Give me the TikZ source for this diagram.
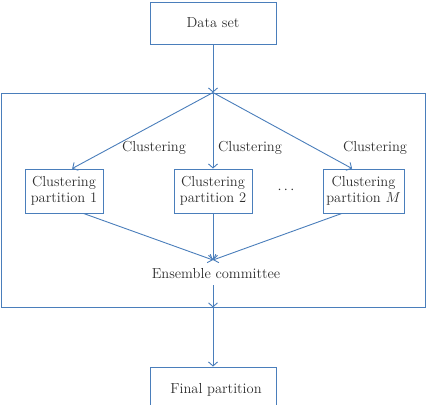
\documentclass[tikz,border=0pt]{standalone}
\usetikzlibrary{arrows.meta}
\definecolor{lineblue}{RGB}{74,126,187}
\definecolor{txt}{RGB}{45,45,45}
\begin{document}
\begin{tikzpicture}[x=1pt,y=-1pt,
  font=\fontsize{14.5}{15.5}\selectfont,
  every node/.append style={text=txt},
  box/.style={draw=lineblue,line width=0.9pt,inner sep=0pt,align=center},
  conn/.style={draw=lineblue,line width=0.9pt,-{Straight Barb[length=4pt,width=9pt]}},
  lbl/.style={inner sep=0pt}]
\useasboundingbox (0,0) rectangle (433,404);
% nodes
\node[box,minimum width=126pt,minimum height=42pt] (data) at (213,23) {Data set};
\node[box,draw=lineblue,minimum width=424pt,minimum height=214pt] (big) at (213,200) {};
\node[box,minimum width=78pt,minimum height=44pt] (p1) at (64,191) {Clustering\\partition 1};
\node[box,minimum width=78pt,minimum height=44pt] (p2) at (213,191) {Clustering\\partition 2};
\node[box,minimum width=81pt,minimum height=44pt] (pM) at (363.5,191) {Clustering\\partition $M$};
\node[lbl] (d) at (286,190) {$\cdots$};
\node[lbl] (c1) at (154,148) {Clustering};
\node[lbl] (c2) at (250,148) {Clustering};
\node[lbl] (c3) at (375,148) {Clustering};
\node[lbl] (ens) at (216,274) {Ensemble committee};
\node[box,minimum width=126pt,minimum height=46pt] (final) at (213,390) {};
\node[lbl] (ftext) at (216,390) {Final partition};
\coordinate (split) at (big.north);
\coordinate (merge) at (213,260);
\coordinate (ensout) at (213,285);
\coordinate (bigbot) at (big.south);
% connectors
\draw[conn] (data) -- (split);
\draw[conn] (split) -- (p1.70);
\draw[conn] (split) -- (p2);
\draw[conn] (split) -- (pM.117);
\draw[conn] (p1.-49) -- (merge);
\draw[conn] (p2) -- (merge);
\draw[conn] (pM.-134) -- (merge);
\draw[conn] (ensout) -- (bigbot);
\draw[conn] (bigbot) -- (final);
\end{tikzpicture}
\end{document}
